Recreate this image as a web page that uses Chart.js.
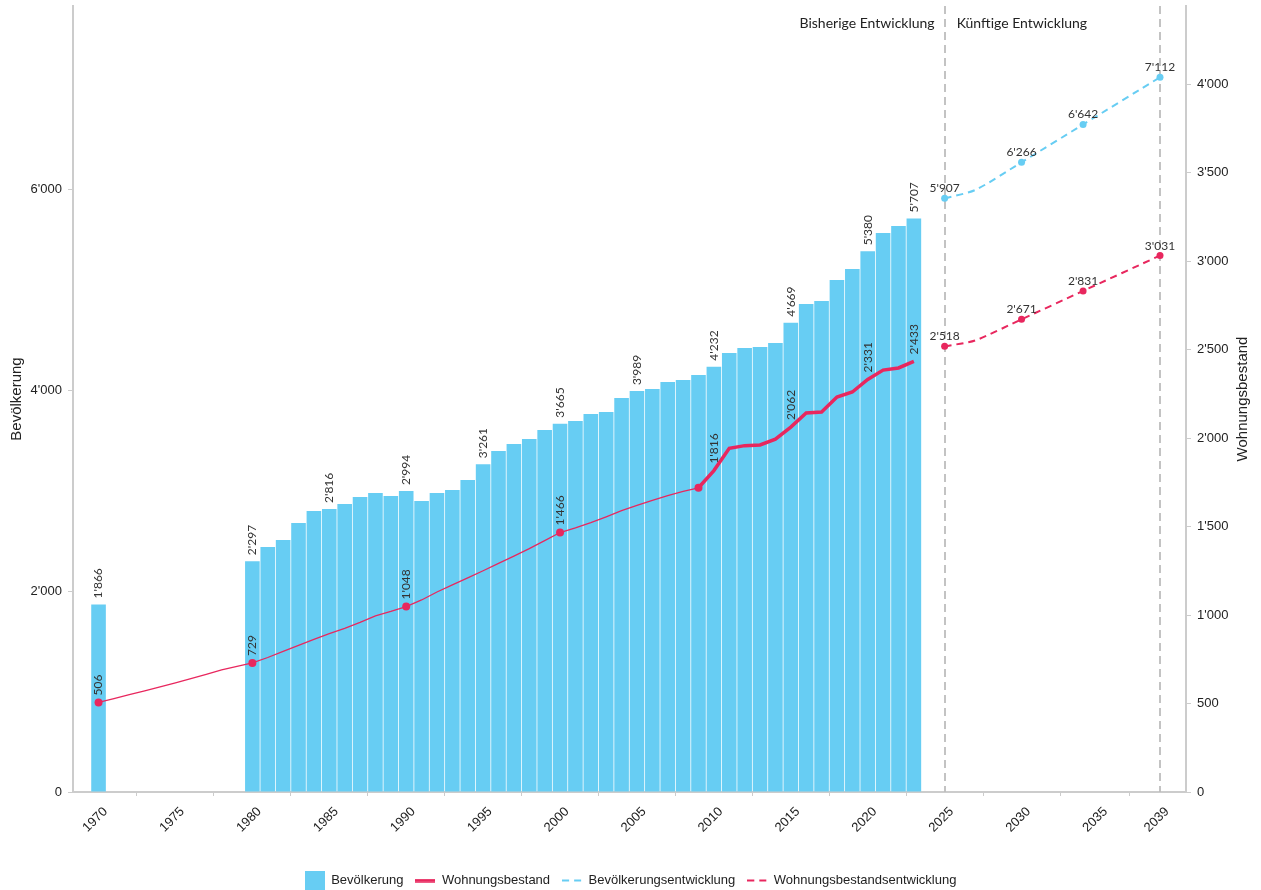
<!DOCTYPE html>
<html><head><meta charset="utf-8">
<script src="https://cdn.jsdelivr.net/npm/chart.js@4"></script>
<style>html,body{margin:0;padding:0;background:#fff;}#wrap{width:1261px;height:890px;position:relative;}</style>
</head><body><div id="wrap"><canvas id="c" width="1261" height="890"></canvas></div>
<script>
// ---------- data ----------
const popYears = [1970,1980,1981,1982,1983,1984,1985,1986,1987,1988,1989,1990,1991,1992,1993,1994,1995,1996,1997,1998,1999,2000,2001,2002,2003,2004,2005,2006,2007,2008,2009,2010,2011,2012,2013,2014,2015,2016,2017,2018,2019,2020,2021,2022,2023];
const popValues = [1866,2297,2438,2507,2677,2796,2816,2866,2935,2975,2945,2994,2895,2975,3005,3104,3261,3393,3463,3512,3602,3665,3691,3761,3781,3920,3989,4010,4080,4100,4149,4232,4368,4418,4428,4468,4669,4856,4886,5095,5204,5380,5562,5632,5707];
const popLabelYears = [1970,1980,1985,1990,1995,2000,2005,2010,2015,2020,2023];

const housingYears = [1970,1971,1972,1973,1974,1975,1976,1977,1978,1979,1980,1981,1982,1983,1984,1985,1986,1987,1988,1989,1990,1991,1992,1993,1994,1995,1996,1997,1998,1999,2000,2001,2002,2003,2004,2005,2006,2007,2008,2009,2010,2011,2012,2013,2014,2015,2016,2017,2018,2019,2020,2021,2022,2023];
const housingValues = [506,528,550,572,594,616,640,665,690,710,729,760,795,828,862,895,925,958,995,1020,1048,1085,1130,1170,1210,1250,1292,1333,1375,1420,1466,1492,1522,1555,1590,1620,1648,1675,1698,1719,1816,1942,1957,1961,1994,2062,2141,2147,2232,2260,2331,2384,2396,2433];
const housingMarkerYears = [1970,1980,1990,2000,2009];
const housingLabelYears = [1970,1980,1990,2000,2010,2015,2020,2023];
const housingThickFrom = 2009;

const projYears = [2025,2027,2030,2034,2039];
const popProjValues = [5907,5991,6266,6642,7112];
const housingProjValues = [2518,2552,2671,2831,3031];
const projMarkerYears = [2025,2030,2034,2039];

const xTickYears = [1970,1975,1980,1985,1990,1995,2000,2005,2010,2015,2020,2025,2030,2035,2039];
const leftTicks = [0,2000,4000,6000];
const rightTicks = [0,500,1000,1500,2000,2500,3000,3500,4000];
const dividerYears = [2025,2039];
const periodLabels = ['Bisherige Entwicklung','Künftige Entwicklung'];
const seriesNames = ['Bevölkerung','Wohnungsbestand','Bevölkerungsentwicklung','Wohnungsbestandsentwicklung'];
const axisTitles = ['Bevölkerung','Wohnungsbestand'];

// ---------- style ----------
const BLUE = '#67CDF3';
const RED = '#E8275E';
const TXT = '#222';
const LBL = '#333';
const AXIS = '#CCCCCC';
const SANS = "'Liberation Sans', Arial, sans-serif";
const LFONT = "Lato, 'Open Sans', sans-serif";

function fmt(v){
  v = Math.round(v);
  if (v >= 1000) return Math.floor(v/1000) + "'" + String(v % 1000).padStart(3,'0');
  return String(v);
}
function swatch(w,h,draw){
  const c=document.createElement('canvas'); c.width=w; c.height=h;
  draw(c.getContext('2d')); return c;
}
const swRect = swatch(20,20,g=>{g.fillStyle=BLUE;g.fillRect(0,0,20,20);});
const swSolid = swatch(20,4,g=>{g.strokeStyle=RED;g.lineWidth=3.5;g.beginPath();g.moveTo(0,2);g.lineTo(20,2);g.stroke();});
const swDash = col => swatch(20,4,g=>{g.strokeStyle=col;g.lineWidth=2;g.setLineDash([7,5]);g.beginPath();g.moveTo(0,2);g.lineTo(20,2);g.stroke();});

const overlay = {
  id:'overlay',
  beforeDatasetsDraw(chart){
    const {ctx, chartArea, scales} = chart;
    ctx.save();
    ctx.strokeStyle = '#BDBDBD'; ctx.lineWidth = 1.8; ctx.setLineDash([8,5]);
    dividerYears.forEach(yr=>{
      const px = Math.round(scales.x.getPixelForValue(yr));
      ctx.beginPath(); ctx.moveTo(px, chartArea.top); ctx.lineTo(px, chartArea.bottom); ctx.stroke();
    });
    ctx.restore();
  },
  afterDatasetsDraw(chart){
    const {ctx, chartArea, scales} = chart;
    ctx.save();
    ctx.fillStyle = LBL;
    ctx.font = '12px ' + LFONT;
    const vert = (x,y,t)=>{ctx.save();ctx.translate(x,y);ctx.rotate(-Math.PI/2);ctx.textAlign='left';ctx.textBaseline='middle';ctx.fillText(t,0,0);ctx.restore();};
    chart.getDatasetMeta(0).data.forEach((el,i)=>{
      if (popLabelYears.includes(popYears[i])) vert(el.x, el.y-6, fmt(popValues[i]));
    });
    chart.getDatasetMeta(1).data.forEach((el,i)=>{
      if (housingLabelYears.includes(housingYears[i])) vert(el.x, el.y-7, fmt(housingValues[i]));
    });
    ctx.textAlign='center'; ctx.textBaseline='alphabetic';
    [[2,popProjValues],[3,housingProjValues]].forEach(([di,vals])=>{
      chart.getDatasetMeta(di).data.forEach((el,i)=>{
        if (projMarkerYears.includes(projYears[i])) ctx.fillText(fmt(vals[i]), el.x, el.y-6);
      });
    });
    // period labels
    const dx = scales.x.getPixelForValue(dividerYears[0]);
    ctx.font = '14px ' + LFONT; ctx.fillStyle = TXT; ctx.textBaseline='middle';
    ctx.textAlign='right'; ctx.fillText(periodLabels[0], dx-10, chartArea.top+17);
    ctx.textAlign='left'; ctx.fillText(periodLabels[1], dx+12, chartArea.top+17);
    ctx.restore();
  },
  afterDraw(chart){
    const {ctx, chartArea, scales} = chart;
    ctx.save();
    ctx.font = '15px ' + SANS; ctx.fillStyle = TXT;
    ctx.translate(scales.y1.right-18, (chartArea.top+chartArea.bottom)/2);
    ctx.rotate(-Math.PI/2); ctx.textAlign='center'; ctx.textBaseline='middle';
    ctx.fillText(axisTitles[1],0,0);
    ctx.restore();
  }
};

new Chart(document.getElementById('c'), {
  type:'bar',
  data:{
    datasets:[
      {type:'bar', label:seriesNames[0], data:popYears.map((y,i)=>({x:y,y:popValues[i]})), yAxisID:'y',
       backgroundColor:BLUE, borderWidth:0, barPercentage:0.95, categoryPercentage:1, order:3},
      {type:'line', label:seriesNames[1], data:housingYears.map((y,i)=>({x:y,y:housingValues[i]})), yAxisID:'y1',
       borderColor:RED, backgroundColor:RED, borderWidth:1.3, tension:0,
       segment:{borderWidth:c=> c.p0.parsed.x >= housingThickFrom ? 3.5 : 1.3},
       pointRadius:c=> housingMarkerYears.includes(housingYears[c.dataIndex]) ? 4 : 0,
       pointBackgroundColor:RED, pointBorderWidth:0, order:1},
      {type:'line', label:seriesNames[2], data:projYears.map((y,i)=>({x:y,y:popProjValues[i]})), yAxisID:'y',
       borderColor:BLUE, backgroundColor:BLUE, borderWidth:2, borderDash:[7,5], tension:0.25,
       pointRadius:c=> projMarkerYears.includes(projYears[c.dataIndex]) ? 3.5 : 0,
       pointBackgroundColor:BLUE, pointBorderWidth:0, order:1},
      {type:'line', label:seriesNames[3], data:projYears.map((y,i)=>({x:y,y:housingProjValues[i]})), yAxisID:'y1',
       borderColor:RED, backgroundColor:RED, borderWidth:2, borderDash:[7,5], tension:0.25,
       pointRadius:c=> projMarkerYears.includes(projYears[c.dataIndex]) ? 3.5 : 0,
       pointBackgroundColor:RED, pointBorderWidth:0, order:1}
    ]
  },
  options:{
    responsive:false, animation:false, devicePixelRatio:1,
    layout:{padding:{top:6,left:0,right:0,bottom:0}},
    plugins:{
      tooltip:{enabled:false},
      legend:{
        position:'bottom', maxHeight:28,
        labels:{
          usePointStyle:true, pointStyleWidth:20, padding:12, color:TXT,
          font:{family:SANS,size:13},
          generateLabels:()=>[
            {text:seriesNames[0], pointStyle:swRect, fillStyle:BLUE, strokeStyle:BLUE, lineWidth:0, hidden:false, datasetIndex:0, fontColor:TXT},
            {text:seriesNames[1], pointStyle:swSolid, fillStyle:RED, strokeStyle:RED, lineWidth:0, hidden:false, datasetIndex:1, fontColor:TXT},
            {text:seriesNames[2], pointStyle:swDash(BLUE), fillStyle:BLUE, strokeStyle:BLUE, lineWidth:0, hidden:false, datasetIndex:2, fontColor:TXT},
            {text:seriesNames[3], pointStyle:swDash(RED), fillStyle:RED, strokeStyle:RED, lineWidth:0, hidden:false, datasetIndex:3, fontColor:TXT}
          ]
        }
      }
    },
    scales:{
      x:{type:'linear', min:1968.34, max:2040.69, offset:false,
         grid:{drawOnChartArea:false, drawTicks:true, tickLength:4, color:AXIS},
         border:{display:true, color:AXIS, width:2},
         afterBuildTicks:s=>{ s.ticks = xTickYears.map(v=>({value:v})); },
         afterFit:s=>{ s.height = 70; s.paddingLeft = 0; s.paddingRight = 0; },
         ticks:{autoSkip:false, minRotation:45, maxRotation:45, color:TXT, font:{family:SANS,size:13}, padding:8, labelOffset:7, callback:v=>String(v)}},
      y:{position:'left', min:0, max:7821,
         grid:{drawOnChartArea:false, drawTicks:true, tickLength:5, color:AXIS},
         border:{display:true, color:AXIS, width:2},
         afterBuildTicks:s=>{ s.ticks = leftTicks.map(v=>({value:v})); },
         afterFit:s=>{ s.width = 73; s.paddingTop = 0; s.paddingBottom = 0; },
         title:{display:true, text:axisTitles[0], color:TXT, font:{family:SANS,size:15}, padding:{top:8,bottom:0}},
         ticks:{color:TXT, font:{family:SANS,size:13}, padding:6, callback:v=>fmt(v)}},
      y1:{position:'right', min:0, max:4441,
         grid:{drawOnChartArea:false, drawTicks:true, tickLength:5, color:AXIS},
         border:{display:true, color:AXIS, width:2},
         afterBuildTicks:s=>{ s.ticks = rightTicks.map(v=>({value:v})); },
         afterFit:s=>{ s.width = 75; s.paddingTop = 0; s.paddingBottom = 0; },
         ticks:{color:TXT, font:{family:SANS,size:13}, padding:6, callback:v=>fmt(v)}}
    }
  },
  plugins:[overlay]
});
</script></body></html>
